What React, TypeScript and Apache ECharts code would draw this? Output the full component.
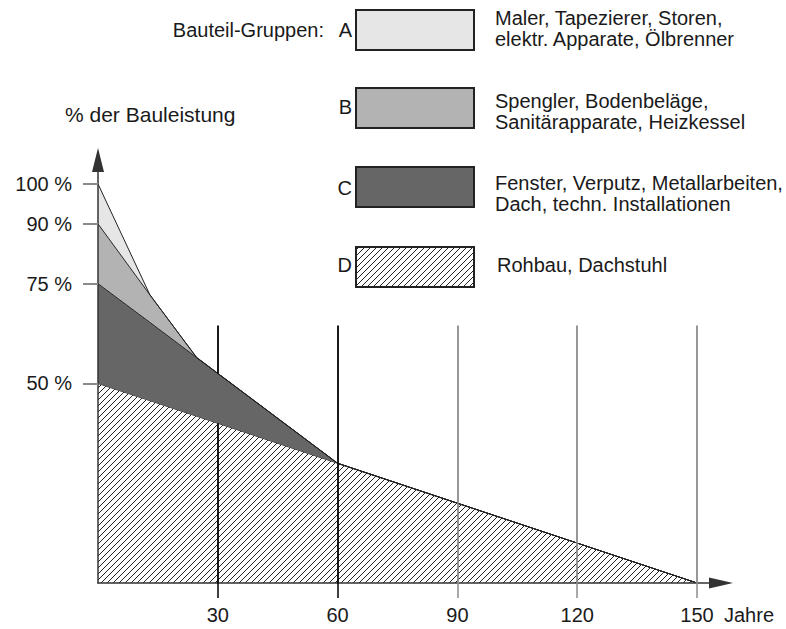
import React, { useEffect, useRef } from "react";
import * as echarts from "echarts";

// Boundary points (years) where the group bands change slope
const years = [0, 13, 24.7, 60, 150];
// Upper edge of each cumulative band (% der Bauleistung)
const topD = [50, 45.7, 41.8, 30, 0];
const topC = [75, 65.3, 56.5, 30, 0];
const topB = [90, 72.2, 56.5, 30, 0];
const topA = [100, 72.2, 56.5, 30, 0];

const yTickValues = [50, 75, 90, 100];
const xTickValues = [30, 60, 90, 120, 150];
const darkGridYears = [30, 60];
const lightGridYears = [90, 120, 150];
const gridLineTop = 64.5;

const groupLetters = ["A", "B", "C", "D"];
const groupTexts = [
  "Maler, Tapezierer, Storen,\nelektr. Apparate, Ölbrenner",
  "Spengler, Bodenbeläge,\nSanitärapparate, Heizkessel",
  "Fenster, Verputz, Metallarbeiten,\nDach, techn. Installationen",
  "Rohbau, Dachstuhl",
];

const FONT = "'Liberation Sans', Arial, Helvetica, sans-serif";
const TXT = "#1a1a1a";
const DARK = "#000";
const LIGHT = "#8c8c8c";

function interp(xs: number[], ys: number[], x: number): number {
  for (let i = 0; i < xs.length - 1; i++) {
    if (x >= xs[i] && x <= xs[i + 1]) {
      const t = (x - xs[i]) / (xs[i + 1] - xs[i]);
      return ys[i] + t * (ys[i + 1] - ys[i]);
    }
  }
  return ys[ys.length - 1];
}

function makeHatch(): HTMLCanvasElement {
  const c = document.createElement("canvas");
  c.width = 6;
  c.height = 6;
  const ctx = c.getContext("2d")!;
  ctx.strokeStyle = "#222";
  ctx.lineWidth = 1.0;
  ctx.beginPath();
  ctx.moveTo(-1, 7);
  ctx.lineTo(7, -1);
  ctx.moveTo(-1, 1);
  ctx.lineTo(1, -1);
  ctx.moveTo(5, 7);
  ctx.lineTo(7, 5);
  ctx.stroke();
  return c;
}

export default function App() {
  const ref = useRef<HTMLDivElement>(null);

  useEffect(() => {
    if (!ref.current) return;
    const chart = echarts.init(ref.current, undefined, { renderer: "svg" });
    const hatchCanvas = makeHatch();
    const hatch: any = { image: hatchCanvas, repeat: "repeat", imageWidth: 6, imageHeight: 6 };

    const fills: any[] = ["#e6e6e6", "#b3b3b3", "#666666", hatch];
    const layers = [
      { name: "D", top: topD, below: null as number[] | null, fill: fills[3], z: 2 },
      { name: "C", top: topC, below: topD, fill: fills[2], z: 4 },
      { name: "B", top: topB, below: topC, fill: fills[1], z: 4 },
      { name: "A", top: topA, below: topB, fill: fills[0], z: 4 },
    ];

    // Grid lines: visible above the stacked bands and through the hatched band D
    const gridMarkLines: any[] = [];
    const addGrid = (x: number, color: string) => {
      const style = { color, width: 1.8, type: "solid", opacity: 1 };
      const stackTop = interp(years, topA, x);
      const dTop = interp(years, topD, x);
      if (gridLineTop > stackTop) {
        gridMarkLines.push([{ coord: [x, gridLineTop], lineStyle: style }, { coord: [x, stackTop] }]);
      }
      if (dTop > 0) {
        gridMarkLines.push([{ coord: [x, dTop], lineStyle: style }, { coord: [x, 0] }]);
      }
    };
    darkGridYears.forEach((x) => addGrid(x, DARK));
    lightGridYears.forEach((x) => addGrid(x, LIGHT));

    const boxTops = [10, 88, 167, 247];
    const letterY = [30, 107, 188, 265];
    const textY = [28, 111, 193, 265];
    const textX = [495, 495, 495, 497];

    const graphic: any[] = [
      {
        type: "text",
        x: 65,
        y: 114,
        z: 10,
        style: { text: "% der Bauleistung", font: `21px ${FONT}`, fill: TXT, verticalAlign: "middle" },
      },
      {
        type: "text",
        x: 724,
        y: 615,
        z: 10,
        style: { text: "Jahre", font: `20px ${FONT}`, fill: TXT, verticalAlign: "middle" },
      },
      {
        type: "text",
        x: 324,
        y: 30,
        z: 10,
        style: { text: "Bauteil-Gruppen:", font: `20px ${FONT}`, fill: TXT, align: "right", verticalAlign: "middle" },
      },
    ];
    groupLetters.forEach((L, i) => {
      graphic.push({
        type: "text",
        x: 352,
        y: letterY[i],
        z: 10,
        style: { text: L, font: `20px ${FONT}`, fill: TXT, align: "right", verticalAlign: "middle" },
      });
      graphic.push({
        type: "rect",
        z: 10,
        shape: { x: 356, y: boxTops[i], width: 118, height: 40 },
        style: { fill: fills[i], stroke: "#222", lineWidth: 2 },
      });
      graphic.push({
        type: "text",
        x: textX[i],
        y: textY[i],
        z: 10,
        style: {
          text: groupTexts[i],
          font: `20px ${FONT}`,
          fill: TXT,
          verticalAlign: "middle",
          lineHeight: 21,
        },
      });
    });

    const xBase = { type: "value" as const, min: 0, max: 156, splitLine: { show: false } };

    chart.setOption({
      animation: false,
      backgroundColor: "#fff",
      grid: { left: 98, right: 65, top: 160, bottom: 46, containLabel: false },
      xAxis: [
        {
          ...xBase,
          z: 6,
          axisLine: {
            show: true,
            onZero: true,
            symbol: ["none", "triangle"],
            symbolSize: [11, 24],
            lineStyle: { color: "#333", width: 1.5 },
          },
          axisTick: {
            show: true,
            customValues: darkGridYears,
            length: 15,
            lineStyle: { color: DARK, width: 1.5 },
          },
          axisLabel: {
            customValues: xTickValues,
            fontSize: 20,
            fontFamily: FONT,
            color: TXT,
            margin: 22,
          },
        },
        {
          ...xBase,
          z: 6,
          position: "bottom",
          offset: 0,
          axisLine: { show: false },
          axisTick: {
            show: true,
            customValues: lightGridYears,
            length: 15,
            lineStyle: { color: LIGHT, width: 1.5 },
          },
          axisLabel: { show: false },
        },
      ],
      yAxis: {
        type: "value",
        min: 0,
        max: 106,
        z: 6,
        axisLine: {
          show: true,
          onZero: true,
          symbol: ["none", "triangle"],
          symbolSize: [12, 24],
          lineStyle: { color: "#333", width: 1.5 },
        },
        axisTick: {
          show: true,
          customValues: yTickValues,
          length: 15,
          lineStyle: { color: "#8a8a8a", width: 2 },
        },
        splitLine: { show: false },
        axisLabel: {
          customValues: yTickValues,
          formatter: (v: number) => `${v} %`,
          fontSize: 20,
          fontFamily: FONT,
          color: TXT,
          margin: 26,
        },
      },
      graphic,
      series: layers.map((l, idx) => ({
        type: "line",
        name: l.name,
        stack: "total",
        z: l.z,
        silent: true,
        symbol: "none",
        showSymbol: false,
        // value first so that the stack is applied to the percentage (y) dimension
        encode: { x: 1, y: 0 },
        data: years.map((x, j) => [l.top[j] - (l.below ? l.below[j] : 0), x]),
        lineStyle: { color: "#222", width: 1 },
        areaStyle: { color: l.fill, opacity: 1 },
        markLine:
          idx === 0
            ? {
                silent: true,
                z: 10,
                symbol: ["none", "none"],
                label: { show: false },
                emphasis: { disabled: true },
                data: gridMarkLines,
              }
            : undefined,
      })),
    });

    return () => chart.dispose();
  }, []);

  return (
    <div
      ref={ref}
      style={{ position: "fixed", left: 0, top: 0, width: 786, height: 629, background: "#fff" }}
    />
  );
}
